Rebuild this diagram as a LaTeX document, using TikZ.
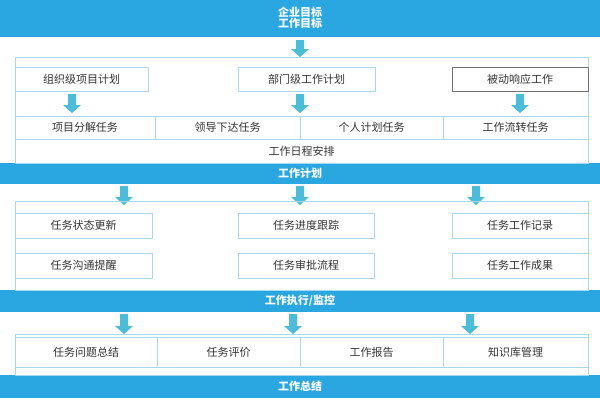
\documentclass[tikz,border=0pt]{standalone}
\usepackage{fontspec}
\setmainfont{Noto Sans CJK SC}
\begin{document}
\begin{tikzpicture}[x=1pt,y=-1pt,
  bandtext/.style={text=white,font=\fontsize{11}{12}\selectfont\bfseries,align=center},
  cell/.style={draw=cellc,line width=0.8pt,fill=white,text=black!80,font=\fontsize{11}{12}\selectfont},
  frame/.style={draw=cellc,line width=0.8pt}]
\definecolor{bandc}{HTML}{2AA7E1}
\definecolor{cellc}{HTML}{A8D8EE}
\definecolor{arrc}{HTML}{4CBCD8}
\newcommand{\blockarrow}[3]{\fill[arrc] (#1-4,#2) -- (#1+4,#2) -- (#1+4,#3-8) -- (#1+9,#3-8) -- (#1,#3) -- (#1-9,#3-8) -- (#1-4,#3-8) -- cycle;}
\useasboundingbox (0,0) rectangle (600,400);
\fill[white] (0,0) rectangle (600,400);
% bands
\fill[bandc] (0,0) rectangle (600,37); \node[bandtext,font=\fontsize{11}{11.5}\selectfont\bfseries] (b1) at (300,18) {企业目标\\工作目标};
\fill[bandc] (0,163) rectangle (600,184); \node[bandtext] (b2) at (300,173.5) {工作计划};
\fill[bandc] (0,290) rectangle (600,312); \node[bandtext] (b3) at (300,301) {工作执行/监控};
\fill[bandc] (0,375) rectangle (600,398); \node[bandtext] (b4) at (300,386.5) {工作总结};
% section 1
\draw[frame] (15,57) rectangle (588,163);
\blockarrow{300}{40}{57}
\node[cell,minimum width=133,minimum height=24] (p1) at (81.5,79) {组织级项目计划};
\node[cell,minimum width=137,minimum height=24] (p2) at (306.5,79) {部门级工作计划};
\node[cell,draw=black!55,minimum width=136,minimum height=24] (p3) at (520,79) {被动响应工作};
\blockarrow{72}{94}{113}
\blockarrow{300}{94}{113}
\blockarrow{520}{94}{113}
\node[cell,minimum width=140,minimum height=23] (t1) at (85,127.5) {项目分解任务};
\node[cell,minimum width=145,minimum height=23] (t2) at (227.5,127.5) {领导下达任务};
\node[cell,minimum width=143,minimum height=23] (t3) at (371.5,127.5) {个人计划任务};
\node[cell,minimum width=145,minimum height=23] (t4) at (515.5,127.5) {工作流转任务};
\node[cell,minimum width=573,minimum height=24] (t5) at (301.5,151) {工作日程安排};
% section 2
\blockarrow{124}{186}{205}
\blockarrow{300}{186}{205}
\blockarrow{476}{186}{205}
\draw[frame] (15,201) rectangle (588,290);
\node[cell,minimum width=137,minimum height=25] (e1) at (83.5,225.5) {任务状态更新};
\node[cell,minimum width=136,minimum height=25] (e2) at (306,225.5) {任务进度跟踪};
\node[cell,minimum width=136,minimum height=25] (e3) at (520,225.5) {任务工作记录};
\node[cell,minimum width=137,minimum height=25] (e4) at (83.5,265.5) {任务沟通提醒};
\node[cell,minimum width=136,minimum height=25] (e5) at (306,265.5) {任务审批流程};
\node[cell,minimum width=136,minimum height=25] (e6) at (520,265.5) {任务工作成果};
% section 3
\blockarrow{124}{314}{334}
\blockarrow{293}{314}{334}
\blockarrow{470}{314}{334}
\draw[frame] (15,334) rectangle (588,375);
\node[cell,minimum width=142,minimum height=30] (s1) at (86,352) {任务问题总结};
\node[cell,minimum width=143,minimum height=30] (s2) at (228.5,352) {任务评价};
\node[cell,minimum width=143,minimum height=30] (s3) at (371.5,352) {工作报告};
\node[cell,minimum width=145,minimum height=30] (s4) at (515.5,352) {知识库管理};
\end{tikzpicture}
\end{document}
